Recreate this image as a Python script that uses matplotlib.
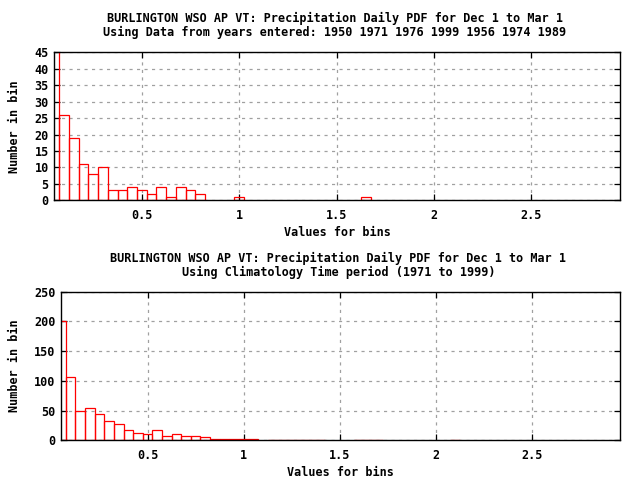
import matplotlib
matplotlib.use("Agg")
import matplotlib.pyplot as plt

# ---------------- data ----------------
top_bins = [0.05, 0.10, 0.15, 0.20, 0.25, 0.30, 0.35, 0.40, 0.45, 0.50,
            0.55, 0.60, 0.65, 0.70, 0.75, 0.80, 1.00, 1.65]
top_counts = [49, 26, 19, 11, 8, 10, 3, 3, 4, 3,
              2, 4, 1, 4, 3, 2, 1, 1]

bot_bins = [0.05, 0.10, 0.15, 0.20, 0.25, 0.30, 0.35, 0.40, 0.45, 0.50,
            0.55, 0.60, 0.65, 0.70, 0.75, 0.80, 0.85, 0.90, 0.95, 1.00,
            1.05, 1.15, 1.20, 1.25, 1.30, 1.35, 1.40, 1.60, 1.65, 1.70,
            2.10]
bot_counts = [201, 106, 49, 55, 44, 32, 28, 17, 12, 10,
              17, 7, 10, 8, 7, 5, 2, 3, 2, 3,
              2, 1, 1, 1, 1, 1, 1, 1, 1, 1,
              1]

x_ticks = [0.5, 1.0, 1.5, 2.0, 2.5]
x_tick_labels = ["0.5", "1", "1.5", "2", "2.5"]
top_yticks = list(range(0, 50, 5))
bot_yticks = list(range(0, 300, 50))

top_title = ("BURLINGTON WSO AP VT: Precipitation Daily PDF for Dec 1 to Mar 1\n"
             "Using Data from years entered: 1950 1971 1976 1999 1956 1974 1989")
bot_title = ("BURLINGTON WSO AP VT: Precipitation Daily PDF for Dec 1 to Mar 1\n"
             "Using Climatology Time period (1971 to 1999)")
xlab = "Values for bins"
ylab = "Number in bin"
bin_width = 0.05

# ---------------- style ----------------
FONT = "DejaVu Sans Mono"
FS = 8.5
W, H = 640, 480

fig = plt.figure(figsize=(6.4, 4.8), dpi=100)
fig.patch.set_facecolor("white")


def px_axes(left, top, right, bottom):
    return fig.add_axes([left / W, 1 - bottom / H, (right - left) / W, (bottom - top) / H])


def style(ax, bins, counts, yticks, ymax, title, title_y, xlab_y, top_px, bottom_px, left_px, right_px):
    ax.bar(bins, counts, width=bin_width, align="center", fill=False,
           edgecolor="#ff0000", linewidth=0.9, zorder=3)
    ax.set_xlim(0.05, 2.955)
    ax.set_ylim(0, ymax)
    ax.set_xticks(x_ticks)
    ax.set_xticklabels(x_tick_labels)
    ax.set_yticks(yticks)
    ax.set_yticklabels([str(v) for v in yticks])
    ax.tick_params(direction="in", length=4, width=0.9, top=True, right=True,
                   labelsize=FS, color="black")
    ax.tick_params(axis="x", pad=6)
    ax.tick_params(axis="y", pad=4)
    for lab in ax.get_xticklabels() + ax.get_yticklabels():
        lab.set_fontfamily(FONT)
        lab.set_fontweight("bold")
    for sp in ax.spines.values():
        sp.set_linewidth(1.0)
        sp.set_color("black")
        sp.set_zorder(5)
    ax.grid(True, color="#a0a0a0", linestyle=(0, (2.5, 3.5)), linewidth=0.9, zorder=1)
    ax.set_axisbelow(True)
    cx = (left_px + right_px) / 2 / W
    fig.text(cx - 2 / W, 1 - title_y / H, title, ha="center", va="center",
             fontsize=FS, fontfamily=FONT, fontweight="bold", linespacing=1.1)
    fig.text(cx, 1 - xlab_y / H, xlab, ha="center", va="center",
             fontsize=FS, fontfamily=FONT, fontweight="bold")
    fig.text(15 / W, 1 - (top_px + bottom_px) / 2 / H, ylab, ha="center", va="center",
             rotation=90, fontsize=FS, fontfamily=FONT, fontweight="bold")


ax1 = px_axes(54.3, 52.3, 619.7, 200.3)
style(ax1, top_bins, top_counts, top_yticks, 45, top_title, 25.8, 232, 52.3, 200.3, 54.3, 619.7)

ax2 = px_axes(61.0, 291.7, 619.7, 440.3)
style(ax2, bot_bins, bot_counts, bot_yticks, 250, bot_title, 265.8, 472, 291.7, 440.3, 61.0, 619.7)

fig.savefig("out.png", dpi=100, facecolor="white")
